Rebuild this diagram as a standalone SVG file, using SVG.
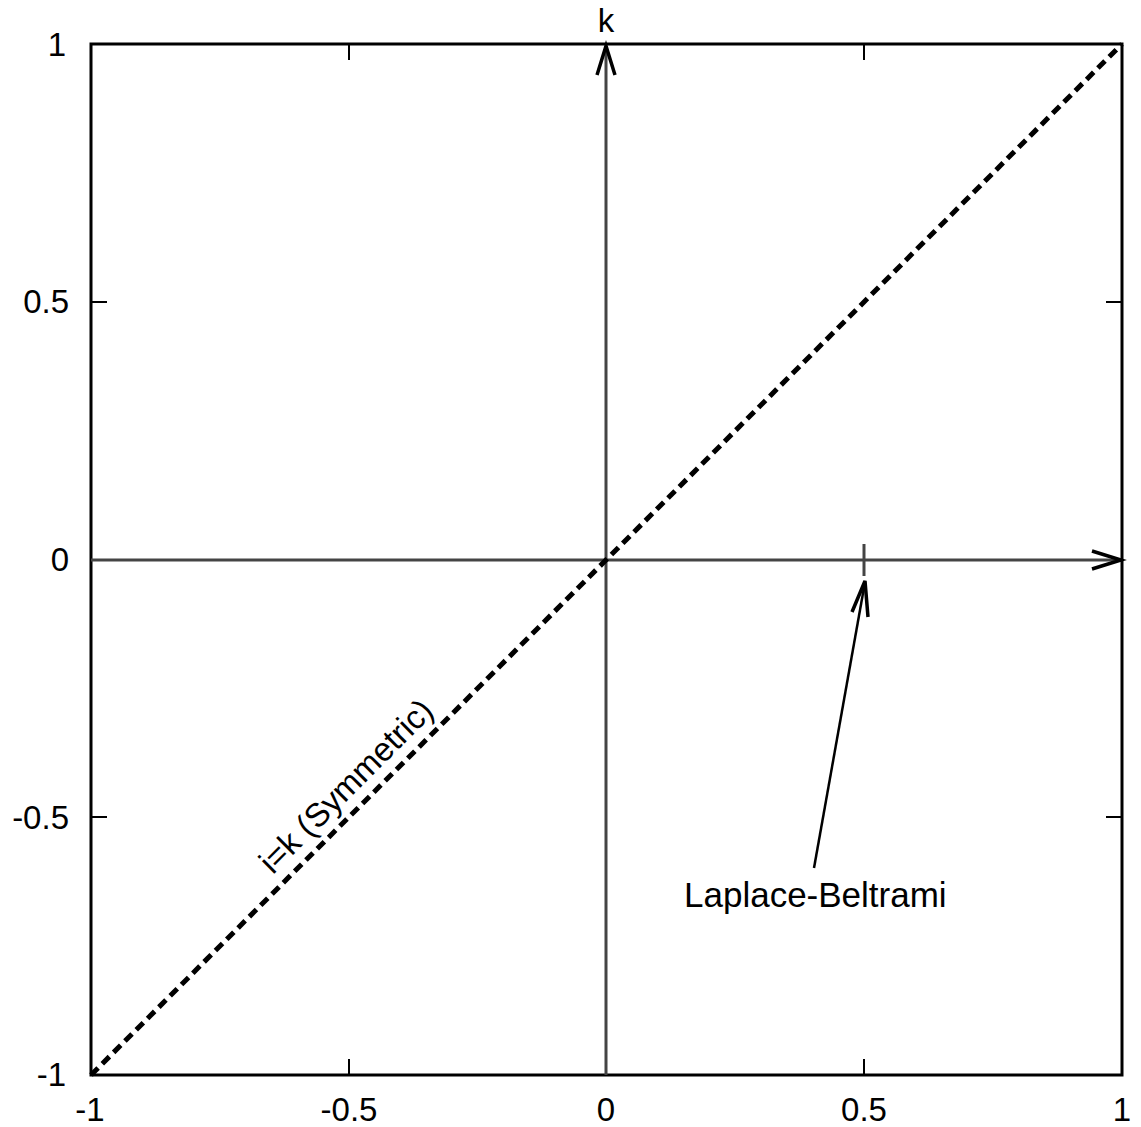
<svg xmlns="http://www.w3.org/2000/svg" width="1141" height="1127" viewBox="0 0 1141 1127">
<style>
text{font-family:"Liberation Sans",Arial,sans-serif;fill:#000}
.lbl{font-size:33px}
.frame{fill:none;stroke:#000;stroke-width:3}
.tick{stroke:#000;stroke-width:2}
.axis{stroke:#444;stroke-width:3;fill:none}
.head{fill:none;stroke:#000;stroke-width:3.5;stroke-linejoin:miter}
</style>
<rect width="1141" height="1127" fill="#fff"/>
<g id="frame">
<rect class="frame" x="91" y="44" width="1031" height="1031"/>
<g class="tick">
<line x1="349" y1="1075" x2="349" y2="1059"/>
<line x1="864" y1="1075" x2="864" y2="1059"/>
<line x1="349" y1="44" x2="349" y2="60"/>
<line x1="864" y1="44" x2="864" y2="60"/>
<line x1="91" y1="302" x2="107" y2="302"/>
<line x1="91" y1="817" x2="107" y2="817"/>
<line x1="1122" y1="302" x2="1106" y2="302"/>
<line x1="1122" y1="817" x2="1106" y2="817"/>
</g>
</g>
<g id="ticklabels" class="lbl">
<text x="90" y="1121" text-anchor="middle">-1</text>
<text x="349" y="1121" text-anchor="middle">-0.5</text>
<text x="606" y="1121" text-anchor="middle">0</text>
<text x="864" y="1121" text-anchor="middle">0.5</text>
<text x="1122" y="1121" text-anchor="middle">1</text>
<text x="66" y="1086" text-anchor="end">-1</text>
<text x="69" y="829" text-anchor="end">-0.5</text>
<text x="69" y="571" text-anchor="end">0</text>
<text x="69" y="313" text-anchor="end">0.5</text>
<text x="66" y="56" text-anchor="end">1</text>
</g>
<g id="connectors">
<line class="axis" x1="91" y1="560" x2="1120" y2="560"/>
<polyline class="head" points="1092,551 1121,560 1092,569"/>
<line class="axis" x1="606" y1="1075" x2="606" y2="46"/>
<polyline class="head" points="597,75 606,46 615,75"/>
<line class="axis" x1="864" y1="544" x2="864" y2="576"/>
<line x1="91" y1="1075" x2="1122" y2="44" stroke="#000" stroke-width="5" stroke-dasharray="10,6"/>
<line x1="814" y1="868" x2="865" y2="582" stroke="#000" stroke-width="2.5"/>
<polyline class="head" points="852,612 865,581 868,617"/>
</g>
<g id="k-label"><text class="lbl" x="606" y="32" text-anchor="middle">k</text></g>
<g id="sym-label"><text x="354" y="794" font-size="33" text-anchor="middle" transform="rotate(-45 354 794)">i=k (Symmetric)</text></g>
<g id="lb-label"><text x="684" y="907" font-size="35">Laplace-Beltrami</text></g>
</svg>
